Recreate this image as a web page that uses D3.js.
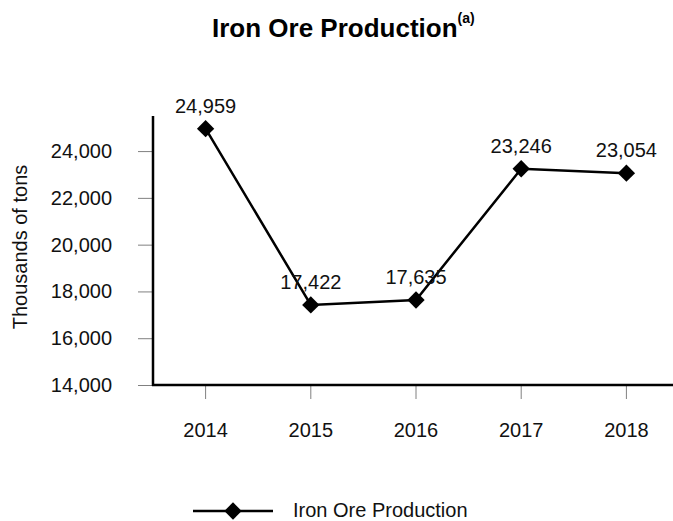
<!DOCTYPE html>
<html>
<head>
<meta charset="UTF-8" />
<title>Iron Ore Production</title>
<script src="https://d3js.org/d3.v7.min.js"></script>
<style type="text/css">
body {
    margin: 0;
    background: #fff;
    font-family: "Liberation Sans", Arial, sans-serif;
}
.tick line {
    stroke: #808080;
}
</style>
</head>
<body>
<svg id="chart" width="673" height="521"></svg>
<script type="text/javascript">
var years = ['2014', '2015', '2016', '2017', '2018'];
var production = [24959, 17422, 17635, 23246, 23054];
var yTicks = [14000, 16000, 18000, 20000, 22000, 24000];

var svg = d3.select('#chart'),
    width = +svg.attr('width'),
    height = +svg.attr('height');

// note: "top" is taken by window.top, so plotTop
var plotLeft = 153, plotTop = 116, plotBottom = 385;

var x = d3.scaleBand().domain(years).range([plotLeft, plotLeft + 526]);
var y = d3.scaleLinear().domain([14000, 25500]).range([plotBottom, plotTop]);
var fmt = d3.format(',');

function cx(d, i) { return x(years[i]) + x.bandwidth() / 2; }

// title
var title = svg.append('text')
    .attr('x', 212).attr('y', 37)
    .attr('font-size', 26).attr('font-weight', 'bold')
    .text('Iron Ore Production');
title.append('tspan')
    .attr('font-size', 14).attr('dy', -14)
    .text('(a)');

// y axis ticks + labels
var yAxis = svg.append('g')
    .attr('transform', 'translate(' + plotLeft + ',0)')
    .call(d3.axisLeft(y).tickValues(yTicks).tickSize(15).tickPadding(26).tickFormat(fmt));
yAxis.select('.domain').remove();
yAxis.selectAll('text').attr('font-size', 20).attr('fill', '#111')
    .attr('font-family', '"Liberation Sans", Arial, sans-serif');

// x axis ticks + labels
var xAxis = svg.append('g')
    .attr('transform', 'translate(0,' + (plotBottom + 1) + ')')
    .call(d3.axisBottom(x).tickSize(13).tickPadding(24));
xAxis.select('.domain').remove();
xAxis.selectAll('text').attr('font-size', 20).attr('fill', '#111')
    .attr('font-family', '"Liberation Sans", Arial, sans-serif');

// axis lines
svg.append('line')
    .attr('x1', plotLeft).attr('x2', plotLeft)
    .attr('y1', plotTop).attr('y2', plotBottom + 1)
    .attr('stroke', '#000').attr('stroke-width', 2.5);
svg.append('line')
    .attr('x1', plotLeft - 1).attr('x2', width)
    .attr('y1', plotBottom).attr('y2', plotBottom)
    .attr('stroke', '#000').attr('stroke-width', 2.5);

// y title
svg.append('text')
    .attr('transform', 'translate(27,247) rotate(-90)')
    .attr('text-anchor', 'middle')
    .attr('font-size', 20).attr('fill', '#111')
    .text('Thousands of tons');

// line
var line = d3.line()
    .x(function(d, i) { return cx(d, i); })
    .y(function(d) { return y(d); });

svg.append('path')
    .datum(production)
    .attr('d', line)
    .attr('fill', 'none')
    .attr('stroke', '#000')
    .attr('stroke-width', 2.5);

var diamond = d3.symbol().type(d3.symbolSquare).size(150);

svg.append('g').selectAll('path').data(production)
    .enter().append('path')
    .attr('d', diamond)
    .attr('transform', function(d, i) {
        return 'translate(' + cx(d, i) + ',' + y(d) + ') rotate(45)';
    })
    .attr('fill', '#000');

svg.append('g').selectAll('text').data(production)
    .enter().append('text')
    .attr('x', function(d, i) { return cx(d, i); })
    .attr('y', function(d) { return y(d) - 16; })
    .attr('text-anchor', 'middle')
    .attr('font-size', 20).attr('fill', '#111')
    .text(function(d) { return fmt(d); });

// legend
var legend = svg.append('g').attr('transform', 'translate(0,511)');
legend.append('line')
    .attr('x1', 193).attr('x2', 273)
    .attr('stroke', '#000').attr('stroke-width', 2.5);
legend.append('path')
    .attr('d', diamond)
    .attr('transform', 'translate(233,0) rotate(45)');
legend.append('text')
    .attr('x', 293).attr('y', 6)
    .attr('font-size', 20).attr('fill', '#111')
    .text('Iron Ore Production');
</script>
</body>
</html>
